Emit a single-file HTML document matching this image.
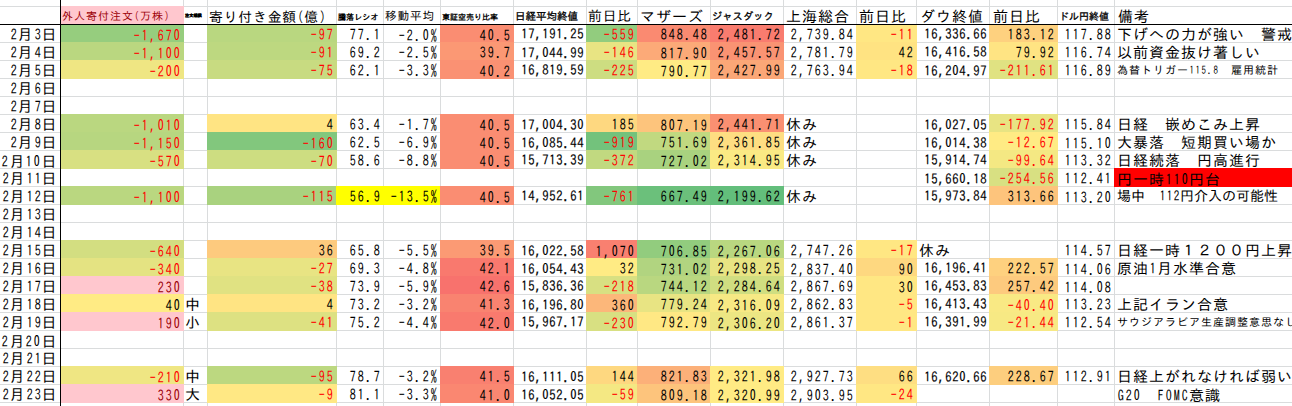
<!DOCTYPE html><html lang="ja"><head><meta charset="utf-8"><title>sheet</title><style>
html,body{margin:0;padding:0}body{width:1292px;height:406px;overflow:hidden;background:#fff;position:relative;font-family:"IPAGothic","Liberation Mono","Noto Sans CJK JP",monospace;color:#000}
.g{position:absolute;background:#dadcdd}.f{position:absolute}.b{position:absolute;background:#000}
.t{position:absolute;white-space:nowrap;height:18px;line-height:18px}
.t i{display:inline-block;font-style:normal;transform:scaleX(.8)}.t u{text-decoration:none;letter-spacing:var(--d)}
.t .z{font-family:"Noto Sans Mono CJK JP","IPAGothic",monospace;transform:scaleX(.8) translateY(-.7px)}
.w i{transform:scaleX(.9)}.w .z{transform:scaleX(.9) translateY(-.6px)}.w{-webkit-text-stroke:.15px #000}
.r{text-align:right}.n{color:#ff0000}.d{color:#9c0006}
</style></head><body>
<div class="g" style="left:0;top:6px;width:1292px;height:1px"></div>
<div class="g" style="left:0;top:42px;width:1292px;height:1px"></div>
<div class="g" style="left:0;top:60px;width:1292px;height:1px"></div>
<div class="g" style="left:0;top:78px;width:1292px;height:1px"></div>
<div class="g" style="left:0;top:96px;width:1292px;height:1px"></div>
<div class="g" style="left:0;top:114px;width:1292px;height:1px"></div>
<div class="g" style="left:0;top:132px;width:1292px;height:1px"></div>
<div class="g" style="left:0;top:150px;width:1292px;height:1px"></div>
<div class="g" style="left:0;top:168px;width:1292px;height:1px"></div>
<div class="g" style="left:0;top:186px;width:1292px;height:1px"></div>
<div class="g" style="left:0;top:204px;width:1292px;height:1px"></div>
<div class="g" style="left:0;top:222px;width:1292px;height:1px"></div>
<div class="g" style="left:0;top:240px;width:1292px;height:1px"></div>
<div class="g" style="left:0;top:258px;width:1292px;height:1px"></div>
<div class="g" style="left:0;top:276px;width:1292px;height:1px"></div>
<div class="g" style="left:0;top:294px;width:1292px;height:1px"></div>
<div class="g" style="left:0;top:312px;width:1292px;height:1px"></div>
<div class="g" style="left:0;top:330px;width:1292px;height:1px"></div>
<div class="g" style="left:0;top:348px;width:1292px;height:1px"></div>
<div class="g" style="left:0;top:366px;width:1292px;height:1px"></div>
<div class="g" style="left:0;top:384px;width:1292px;height:1px"></div>
<div class="g" style="left:0;top:402px;width:1292px;height:1px"></div>
<div class="g" style="left:183px;top:0;width:1px;height:406px"></div>
<div class="g" style="left:207px;top:0;width:1px;height:406px"></div>
<div class="g" style="left:336px;top:0;width:1px;height:406px"></div>
<div class="g" style="left:383px;top:0;width:1px;height:406px"></div>
<div class="g" style="left:440px;top:0;width:1px;height:406px"></div>
<div class="g" style="left:513px;top:0;width:1px;height:406px"></div>
<div class="g" style="left:586px;top:0;width:1px;height:406px"></div>
<div class="g" style="left:637px;top:0;width:1px;height:406px"></div>
<div class="g" style="left:710px;top:0;width:1px;height:406px"></div>
<div class="g" style="left:783px;top:0;width:1px;height:406px"></div>
<div class="g" style="left:856px;top:0;width:1px;height:406px"></div>
<div class="g" style="left:916px;top:0;width:1px;height:406px"></div>
<div class="g" style="left:989px;top:0;width:1px;height:406px"></div>
<div class="g" style="left:1057px;top:0;width:1px;height:406px"></div>
<div class="g" style="left:1114px;top:0;width:1px;height:406px"></div>
<div class="f" style="left:60px;top:6px;width:124px;height:18px;background:#ffc7ce"></div>
<div class="f" style="left:60px;top:24px;width:124px;height:19px;background:#96cd7e"></div>
<div class="f" style="left:207px;top:24px;width:130px;height:19px;background:#b9d780"></div>
<div class="f" style="left:440px;top:24px;width:74px;height:19px;background:#fa8d72"></div>
<div class="f" style="left:586px;top:24px;width:52px;height:19px;background:#92cc7e"></div>
<div class="f" style="left:637px;top:24px;width:74px;height:19px;background:#fa8a71"></div>
<div class="f" style="left:710px;top:24px;width:74px;height:19px;background:#f97c6f"></div>
<div class="f" style="left:856px;top:24px;width:61px;height:19px;background:#ffe783"></div>
<div class="f" style="left:989px;top:24px;width:69px;height:19px;background:#fed17f"></div>
<div class="f" style="left:60px;top:42px;width:124px;height:19px;background:#bad780"></div>
<div class="f" style="left:207px;top:42px;width:130px;height:19px;background:#bdd880"></div>
<div class="f" style="left:440px;top:42px;width:74px;height:19px;background:#fb9874"></div>
<div class="f" style="left:586px;top:42px;width:52px;height:19px;background:#e8e483"></div>
<div class="f" style="left:637px;top:42px;width:74px;height:19px;background:#fcaa78"></div>
<div class="f" style="left:710px;top:42px;width:74px;height:19px;background:#fa9373"></div>
<div class="f" style="left:856px;top:42px;width:61px;height:19px;background:#ffe382"></div>
<div class="f" style="left:989px;top:42px;width:69px;height:19px;background:#ffe483"></div>
<div class="f" style="left:60px;top:60px;width:124px;height:19px;background:#efe683"></div>
<div class="f" style="left:207px;top:60px;width:130px;height:19px;background:#c8db81"></div>
<div class="f" style="left:440px;top:60px;width:74px;height:19px;background:#fa9173"></div>
<div class="f" style="left:586px;top:60px;width:52px;height:19px;background:#cddd81"></div>
<div class="f" style="left:637px;top:60px;width:74px;height:19px;background:#ffeb84"></div>
<div class="f" style="left:710px;top:60px;width:74px;height:19px;background:#fba777"></div>
<div class="f" style="left:856px;top:60px;width:61px;height:19px;background:#ffe783"></div>
<div class="f" style="left:989px;top:60px;width:69px;height:19px;background:#e0e282"></div>
<div class="f" style="left:60px;top:114px;width:124px;height:19px;background:#bad780"></div>
<div class="f" style="left:207px;top:114px;width:130px;height:19px;background:#ffe483"></div>
<div class="f" style="left:440px;top:114px;width:74px;height:19px;background:#fa8d72"></div>
<div class="f" style="left:586px;top:114px;width:52px;height:19px;background:#fed880"></div>
<div class="f" style="left:637px;top:114px;width:74px;height:19px;background:#fdc47c"></div>
<div class="f" style="left:710px;top:114px;width:74px;height:19px;background:#fa9072"></div>
<div class="f" style="left:989px;top:114px;width:69px;height:19px;background:#e8e483"></div>
<div class="f" style="left:60px;top:132px;width:124px;height:19px;background:#b7d680"></div>
<div class="f" style="left:207px;top:132px;width:130px;height:19px;background:#82c77d"></div>
<div class="f" style="left:440px;top:132px;width:74px;height:19px;background:#fa8d72"></div>
<div class="f" style="left:586px;top:132px;width:52px;height:19px;background:#73c27c"></div>
<div class="f" style="left:637px;top:132px;width:74px;height:19px;background:#c1d980"></div>
<div class="f" style="left:710px;top:132px;width:74px;height:19px;background:#fede82"></div>
<div class="f" style="left:989px;top:132px;width:69px;height:19px;background:#ffeb84"></div>
<div class="f" style="left:60px;top:150px;width:124px;height:19px;background:#d8e082"></div>
<div class="f" style="left:207px;top:150px;width:130px;height:19px;background:#cddd81"></div>
<div class="f" style="left:440px;top:150px;width:74px;height:19px;background:#fa8d72"></div>
<div class="f" style="left:586px;top:150px;width:52px;height:19px;background:#c1d980"></div>
<div class="f" style="left:637px;top:150px;width:74px;height:19px;background:#a9d27f"></div>
<div class="f" style="left:710px;top:150px;width:74px;height:19px;background:#faea84"></div>
<div class="f" style="left:989px;top:150px;width:69px;height:19px;background:#f4e883"></div>
<div class="f" style="left:989px;top:168px;width:69px;height:19px;background:#d8e082"></div>
<div class="f" style="left:1114px;top:168px;width:287px;height:19px;background:#ff0000"></div>
<div class="f" style="left:60px;top:186px;width:124px;height:19px;background:#bad780"></div>
<div class="f" style="left:207px;top:186px;width:130px;height:19px;background:#a9d27f"></div>
<div class="f" style="left:336px;top:186px;width:48px;height:19px;background:#ffff00"></div>
<div class="f" style="left:383px;top:186px;width:58px;height:19px;background:#ffff00"></div>
<div class="f" style="left:440px;top:186px;width:74px;height:19px;background:#fa8d72"></div>
<div class="f" style="left:586px;top:186px;width:52px;height:19px;background:#82c77d"></div>
<div class="f" style="left:637px;top:186px;width:74px;height:19px;background:#6bc07b"></div>
<div class="f" style="left:710px;top:186px;width:74px;height:19px;background:#63be7b"></div>
<div class="f" style="left:989px;top:186px;width:69px;height:19px;background:#fdc47c"></div>
<div class="f" style="left:60px;top:240px;width:124px;height:19px;background:#d3de81"></div>
<div class="f" style="left:207px;top:240px;width:130px;height:19px;background:#fdca7e"></div>
<div class="f" style="left:440px;top:240px;width:74px;height:19px;background:#fb9a74"></div>
<div class="f" style="left:586px;top:240px;width:52px;height:19px;background:#f98070"></div>
<div class="f" style="left:637px;top:240px;width:74px;height:19px;background:#92cc7e"></div>
<div class="f" style="left:710px;top:240px;width:74px;height:19px;background:#b9d780"></div>
<div class="f" style="left:856px;top:240px;width:61px;height:19px;background:#ffe783"></div>
<div class="f" style="left:60px;top:258px;width:124px;height:19px;background:#e4e382"></div>
<div class="f" style="left:207px;top:258px;width:130px;height:19px;background:#e8e483"></div>
<div class="f" style="left:440px;top:258px;width:74px;height:19px;background:#f9796e"></div>
<div class="f" style="left:586px;top:258px;width:52px;height:19px;background:#ffeb84"></div>
<div class="f" style="left:637px;top:258px;width:74px;height:19px;background:#b1d480"></div>
<div class="f" style="left:710px;top:258px;width:74px;height:19px;background:#e8e483"></div>
<div class="f" style="left:856px;top:258px;width:61px;height:19px;background:#fed880"></div>
<div class="f" style="left:989px;top:258px;width:69px;height:19px;background:#fed17f"></div>
<div class="f" style="left:60px;top:276px;width:124px;height:19px;background:#ffc7ce"></div>
<div class="f" style="left:207px;top:276px;width:130px;height:19px;background:#e0e282"></div>
<div class="f" style="left:440px;top:276px;width:74px;height:19px;background:#f8726d"></div>
<div class="f" style="left:586px;top:276px;width:52px;height:19px;background:#d8e082"></div>
<div class="f" style="left:637px;top:276px;width:74px;height:19px;background:#b9d780"></div>
<div class="f" style="left:710px;top:276px;width:74px;height:19px;background:#d0de81"></div>
<div class="f" style="left:856px;top:276px;width:61px;height:19px;background:#ffe783"></div>
<div class="f" style="left:989px;top:276px;width:69px;height:19px;background:#fdca7e"></div>
<div class="f" style="left:60px;top:294px;width:124px;height:19px;background:#ffeb84"></div>
<div class="f" style="left:207px;top:294px;width:130px;height:19px;background:#ffe483"></div>
<div class="f" style="left:440px;top:294px;width:74px;height:19px;background:#f98370"></div>
<div class="f" style="left:586px;top:294px;width:52px;height:19px;background:#fcb77a"></div>
<div class="f" style="left:637px;top:294px;width:74px;height:19px;background:#e8e483"></div>
<div class="f" style="left:710px;top:294px;width:74px;height:19px;background:#f7e984"></div>
<div class="f" style="left:856px;top:294px;width:61px;height:19px;background:#ffe783"></div>
<div class="f" style="left:989px;top:294px;width:69px;height:19px;background:#f9e984"></div>
<div class="f" style="left:60px;top:312px;width:124px;height:19px;background:#ffc7ce"></div>
<div class="f" style="left:207px;top:312px;width:130px;height:19px;background:#dde182"></div>
<div class="f" style="left:440px;top:312px;width:74px;height:19px;background:#f97a6e"></div>
<div class="f" style="left:586px;top:312px;width:52px;height:19px;background:#d8e082"></div>
<div class="f" style="left:637px;top:312px;width:74px;height:19px;background:#ffe884"></div>
<div class="f" style="left:710px;top:312px;width:74px;height:19px;background:#ece683"></div>
<div class="f" style="left:856px;top:312px;width:61px;height:19px;background:#ffe783"></div>
<div class="f" style="left:989px;top:312px;width:69px;height:19px;background:#f7e984"></div>
<div class="f" style="left:60px;top:366px;width:124px;height:19px;background:#efe683"></div>
<div class="f" style="left:207px;top:366px;width:130px;height:19px;background:#bcd880"></div>
<div class="f" style="left:440px;top:366px;width:74px;height:19px;background:#f98070"></div>
<div class="f" style="left:586px;top:366px;width:52px;height:19px;background:#fed880"></div>
<div class="f" style="left:637px;top:366px;width:74px;height:19px;background:#fcb079"></div>
<div class="f" style="left:710px;top:366px;width:74px;height:19px;background:#ffeb84"></div>
<div class="f" style="left:856px;top:366px;width:61px;height:19px;background:#fede82"></div>
<div class="f" style="left:989px;top:366px;width:69px;height:19px;background:#fdce7e"></div>
<div class="f" style="left:60px;top:384px;width:124px;height:19px;background:#ffc7ce"></div>
<div class="f" style="left:207px;top:384px;width:130px;height:19px;background:#ffe884"></div>
<div class="f" style="left:440px;top:384px;width:74px;height:19px;background:#fa8771"></div>
<div class="f" style="left:586px;top:384px;width:52px;height:19px;background:#f4e883"></div>
<div class="f" style="left:637px;top:384px;width:74px;height:19px;background:#fdc47c"></div>
<div class="f" style="left:710px;top:384px;width:74px;height:19px;background:#ffeb84"></div>
<div class="f" style="left:856px;top:384px;width:61px;height:19px;background:#ffe783"></div>
<div class="b" style="left:0;top:24px;width:1292px;height:1px"></div>
<div class="b" style="left:60px;top:0;width:1px;height:406px"></div>
<div class="t" style="left:62px;top:6.5px;font-size:11.00px;letter-spacing:0.500px;--d:1.000px;color:#9c0006"><u>外人寄付注文</u><i>(</i><u>万株</u><i>)</i></div>
<div class="t" style="left:185px;top:7px;font-size:4.20px;font-weight:bold;-webkit-text-stroke:.3px #000">注文規模</div>
<div class="t" style="left:209px;top:8px;font-size:13.75px;letter-spacing:0.458px;--d:0.917px;"><u>寄り付き金額</u><i>(</i><u>億</u><i>)</i></div>
<div class="t" style="left:338px;top:8px;font-size:8.10px;font-weight:bold">騰落レシオ</div>
<div class="t" style="left:385px;top:7px;font-size:11.62px;letter-spacing:0.438px;--d:0.875px;"><u>移動平均</u></div>
<div class="t" style="left:442px;top:8px;font-size:8.00px;font-weight:bold">東証空売り比率</div>
<div class="t" style="left:515px;top:7px;font-size:10.50px;-webkit-text-stroke:.3px #000">日経平均終値</div>
<div class="t" style="left:588px;top:7px;font-size:13.75px;letter-spacing:0.458px;--d:0.917px;"><u>前日比</u></div>
<div class="t" style="left:640px;top:8px;font-size:15.00px;letter-spacing:0.500px;--d:1.000px;"><u>マザーズ</u></div>
<div class="t" style="left:712px;top:7px;font-size:10.30px;-webkit-text-stroke:.3px #000">ジャスダック</div>
<div class="t" style="left:786px;top:8px;font-size:15.00px;letter-spacing:0.500px;--d:1.000px;"><u>上海総合</u></div>
<div class="t" style="left:859px;top:8px;font-size:15.00px;letter-spacing:0.500px;--d:1.000px;"><u>前日比</u></div>
<div class="t" style="left:920px;top:8px;font-size:15.00px;letter-spacing:0.500px;--d:1.000px;"><u>ダウ終値</u></div>
<div class="t" style="left:993px;top:8px;font-size:15.00px;letter-spacing:0.500px;--d:1.000px;"><u>前日比</u></div>
<div class="t" style="left:1059px;top:7px;font-size:10.00px;-webkit-text-stroke:.3px #000">ドル円終値</div>
<div class="t" style="left:1118px;top:8px;font-size:15.00px;letter-spacing:0.500px;--d:1.000px;"><u>備考</u></div>
<div class="t r" style="left:0px;width:57.50px;top:26.0px;font-size:15.00px;letter-spacing:0.500px;--d:1.000px;"><i>2</i><u>月</u><i>3</i><u>日</u></div>
<div class="t r n" style="left:61px;width:120.25px;top:26.0px;font-size:15.00px;letter-spacing:0.500px;--d:1.000px;"><i>-</i><i>1</i><i>,</i><i>6</i><i>7</i><i class="z">0</i></div>
<div class="t r n" style="left:208px;width:126.25px;top:26.0px;font-size:15.00px;letter-spacing:0.500px;--d:1.000px;"><i>-</i><i>9</i><i>7</i></div>
<div class="t r" style="left:337px;width:44.25px;top:26.0px;font-size:15.00px;letter-spacing:0.500px;--d:1.000px;"><i>7</i><i>7</i><i>.</i><i>1</i></div>
<div class="t r" style="left:384px;width:54.25px;top:26.0px;font-size:15.00px;letter-spacing:0.500px;--d:1.000px;"><i>-</i><i>2</i><i>.</i><i class="z">0</i><i>%</i></div>
<div class="t r" style="left:441px;width:70.25px;top:26.0px;font-size:15.00px;letter-spacing:0.500px;--d:1.000px;"><i>4</i><i class="z">0</i><i>.</i><i>5</i></div>
<div class="t r w" style="left:514px;width:70.00px;top:25px;font-size:14.00px;"><i>1</i><i>7</i><i>,</i><i>1</i><i>9</i><i>1</i><i>.</i><i>2</i><i>5</i></div>
<div class="t r n" style="left:587px;width:48.25px;top:26.0px;font-size:15.00px;letter-spacing:0.500px;--d:1.000px;"><i>-</i><i>5</i><i>5</i><i>9</i></div>
<div class="t r" style="left:638px;width:70.25px;top:26.0px;font-size:15.00px;letter-spacing:0.500px;--d:1.000px;"><i>8</i><i>4</i><i>8</i><i>.</i><i>4</i><i>8</i></div>
<div class="t r" style="left:711px;width:70.25px;top:26.0px;font-size:15.00px;letter-spacing:0.500px;--d:1.000px;"><i>2</i><i>,</i><i>4</i><i>8</i><i>1</i><i>.</i><i>7</i><i>2</i></div>
<div class="t r" style="left:784px;width:70.25px;top:26.0px;font-size:15.00px;letter-spacing:0.500px;--d:1.000px;"><i>2</i><i>,</i><i>7</i><i>3</i><i>9</i><i>.</i><i>8</i><i>4</i></div>
<div class="t r n" style="left:857px;width:57.25px;top:26.0px;font-size:15.00px;letter-spacing:0.500px;--d:1.000px;"><i>-</i><i>1</i><i>1</i></div>
<div class="t r w" style="left:917px;width:70.00px;top:25px;font-size:14.00px;"><i>1</i><i>6</i><i>,</i><i>3</i><i>3</i><i>6</i><i>.</i><i>6</i><i>6</i></div>
<div class="t r" style="left:990px;width:65.25px;top:26.0px;font-size:15.00px;letter-spacing:0.500px;--d:1.000px;"><i>1</i><i>8</i><i>3</i><i>.</i><i>1</i><i>2</i></div>
<div class="t r" style="left:1058px;width:54.25px;top:26.0px;font-size:15.00px;letter-spacing:0.500px;--d:1.000px;"><i>1</i><i>1</i><i>7</i><i>.</i><i>8</i><i>8</i></div>
<div class="t" style="left:1117px;top:26.0px;font-size:15.00px;letter-spacing:0.500px;--d:1.000px;"><u>下げへの力が強い　警戒</u></div>
<div class="t r" style="left:0px;width:57.50px;top:44.0px;font-size:15.00px;letter-spacing:0.500px;--d:1.000px;"><i>2</i><u>月</u><i>4</i><u>日</u></div>
<div class="t r n" style="left:61px;width:120.25px;top:44.0px;font-size:15.00px;letter-spacing:0.500px;--d:1.000px;"><i>-</i><i>1</i><i>,</i><i>1</i><i class="z">0</i><i class="z">0</i></div>
<div class="t r n" style="left:208px;width:126.25px;top:44.0px;font-size:15.00px;letter-spacing:0.500px;--d:1.000px;"><i>-</i><i>9</i><i>1</i></div>
<div class="t r" style="left:337px;width:44.25px;top:44.0px;font-size:15.00px;letter-spacing:0.500px;--d:1.000px;"><i>6</i><i>9</i><i>.</i><i>2</i></div>
<div class="t r" style="left:384px;width:54.25px;top:44.0px;font-size:15.00px;letter-spacing:0.500px;--d:1.000px;"><i>-</i><i>2</i><i>.</i><i>5</i><i>%</i></div>
<div class="t r" style="left:441px;width:70.25px;top:44.0px;font-size:15.00px;letter-spacing:0.500px;--d:1.000px;"><i>3</i><i>9</i><i>.</i><i>7</i></div>
<div class="t r w" style="left:514px;width:70.00px;top:43px;font-size:14.00px;"><i>1</i><i>7</i><i>,</i><i class="z">0</i><i>4</i><i>4</i><i>.</i><i>9</i><i>9</i></div>
<div class="t r n" style="left:587px;width:48.25px;top:44.0px;font-size:15.00px;letter-spacing:0.500px;--d:1.000px;"><i>-</i><i>1</i><i>4</i><i>6</i></div>
<div class="t r" style="left:638px;width:70.25px;top:44.0px;font-size:15.00px;letter-spacing:0.500px;--d:1.000px;"><i>8</i><i>1</i><i>7</i><i>.</i><i>9</i><i class="z">0</i></div>
<div class="t r" style="left:711px;width:70.25px;top:44.0px;font-size:15.00px;letter-spacing:0.500px;--d:1.000px;"><i>2</i><i>,</i><i>4</i><i>5</i><i>7</i><i>.</i><i>5</i><i>7</i></div>
<div class="t r" style="left:784px;width:70.25px;top:44.0px;font-size:15.00px;letter-spacing:0.500px;--d:1.000px;"><i>2</i><i>,</i><i>7</i><i>8</i><i>1</i><i>.</i><i>7</i><i>9</i></div>
<div class="t r" style="left:857px;width:57.25px;top:44.0px;font-size:15.00px;letter-spacing:0.500px;--d:1.000px;"><i>4</i><i>2</i></div>
<div class="t r w" style="left:917px;width:70.00px;top:43px;font-size:14.00px;"><i>1</i><i>6</i><i>,</i><i>4</i><i>1</i><i>6</i><i>.</i><i>5</i><i>8</i></div>
<div class="t r" style="left:990px;width:65.25px;top:44.0px;font-size:15.00px;letter-spacing:0.500px;--d:1.000px;"><i>7</i><i>9</i><i>.</i><i>9</i><i>2</i></div>
<div class="t r" style="left:1058px;width:54.25px;top:44.0px;font-size:15.00px;letter-spacing:0.500px;--d:1.000px;"><i>1</i><i>1</i><i>6</i><i>.</i><i>7</i><i>4</i></div>
<div class="t" style="left:1117px;top:44.0px;font-size:15.00px;letter-spacing:0.500px;--d:1.000px;"><u>以前資金抜け著しい</u></div>
<div class="t r" style="left:0px;width:57.50px;top:62.0px;font-size:15.00px;letter-spacing:0.500px;--d:1.000px;"><i>2</i><u>月</u><i>5</i><u>日</u></div>
<div class="t r n" style="left:61px;width:120.25px;top:62.0px;font-size:15.00px;letter-spacing:0.500px;--d:1.000px;"><i>-</i><i>2</i><i class="z">0</i><i class="z">0</i></div>
<div class="t r n" style="left:208px;width:126.25px;top:62.0px;font-size:15.00px;letter-spacing:0.500px;--d:1.000px;"><i>-</i><i>7</i><i>5</i></div>
<div class="t r" style="left:337px;width:44.25px;top:62.0px;font-size:15.00px;letter-spacing:0.500px;--d:1.000px;"><i>6</i><i>2</i><i>.</i><i>1</i></div>
<div class="t r" style="left:384px;width:54.25px;top:62.0px;font-size:15.00px;letter-spacing:0.500px;--d:1.000px;"><i>-</i><i>3</i><i>.</i><i>3</i><i>%</i></div>
<div class="t r" style="left:441px;width:70.25px;top:62.0px;font-size:15.00px;letter-spacing:0.500px;--d:1.000px;"><i>4</i><i class="z">0</i><i>.</i><i>2</i></div>
<div class="t r w" style="left:514px;width:70.00px;top:61px;font-size:14.00px;"><i>1</i><i>6</i><i>,</i><i>8</i><i>1</i><i>9</i><i>.</i><i>5</i><i>9</i></div>
<div class="t r n" style="left:587px;width:48.25px;top:62.0px;font-size:15.00px;letter-spacing:0.500px;--d:1.000px;"><i>-</i><i>2</i><i>2</i><i>5</i></div>
<div class="t r" style="left:638px;width:70.25px;top:62.0px;font-size:15.00px;letter-spacing:0.500px;--d:1.000px;"><i>7</i><i>9</i><i class="z">0</i><i>.</i><i>7</i><i>7</i></div>
<div class="t r" style="left:711px;width:70.25px;top:62.0px;font-size:15.00px;letter-spacing:0.500px;--d:1.000px;"><i>2</i><i>,</i><i>4</i><i>2</i><i>7</i><i>.</i><i>9</i><i>9</i></div>
<div class="t r" style="left:784px;width:70.25px;top:62.0px;font-size:15.00px;letter-spacing:0.500px;--d:1.000px;"><i>2</i><i>,</i><i>7</i><i>6</i><i>3</i><i>.</i><i>9</i><i>4</i></div>
<div class="t r n" style="left:857px;width:57.25px;top:62.0px;font-size:15.00px;letter-spacing:0.500px;--d:1.000px;"><i>-</i><i>1</i><i>8</i></div>
<div class="t r w" style="left:917px;width:70.00px;top:61px;font-size:14.00px;"><i>1</i><i>6</i><i>,</i><i>2</i><i class="z">0</i><i>4</i><i>.</i><i>9</i><i>7</i></div>
<div class="t r n" style="left:990px;width:65.25px;top:62.0px;font-size:15.00px;letter-spacing:0.500px;--d:1.000px;"><i>-</i><i>2</i><i>1</i><i>1</i><i>.</i><i>6</i><i>1</i></div>
<div class="t r" style="left:1058px;width:54.25px;top:62.0px;font-size:15.00px;letter-spacing:0.500px;--d:1.000px;"><i>1</i><i>1</i><i>6</i><i>.</i><i>8</i><i>9</i></div>
<div class="t" style="left:1117px;top:61.0px;font-size:11.00px;letter-spacing:0.500px;--d:1.000px;"><u>為替トリガー</u><i>1</i><i>1</i><i>5</i><i>.</i><i>8</i><u>　雇用統計</u></div>
<div class="t r" style="left:0px;width:57.50px;top:80.0px;font-size:15.00px;letter-spacing:0.500px;--d:1.000px;"><i>2</i><u>月</u><i>6</i><u>日</u></div>
<div class="t r" style="left:0px;width:57.50px;top:98.0px;font-size:15.00px;letter-spacing:0.500px;--d:1.000px;"><i>2</i><u>月</u><i>7</i><u>日</u></div>
<div class="t r" style="left:0px;width:57.50px;top:116.0px;font-size:15.00px;letter-spacing:0.500px;--d:1.000px;"><i>2</i><u>月</u><i>8</i><u>日</u></div>
<div class="t r n" style="left:61px;width:120.25px;top:116.0px;font-size:15.00px;letter-spacing:0.500px;--d:1.000px;"><i>-</i><i>1</i><i>,</i><i class="z">0</i><i>1</i><i class="z">0</i></div>
<div class="t r" style="left:208px;width:126.25px;top:116.0px;font-size:15.00px;letter-spacing:0.500px;--d:1.000px;"><i>4</i></div>
<div class="t r" style="left:337px;width:44.25px;top:116.0px;font-size:15.00px;letter-spacing:0.500px;--d:1.000px;"><i>6</i><i>3</i><i>.</i><i>4</i></div>
<div class="t r" style="left:384px;width:54.25px;top:116.0px;font-size:15.00px;letter-spacing:0.500px;--d:1.000px;"><i>-</i><i>1</i><i>.</i><i>7</i><i>%</i></div>
<div class="t r" style="left:441px;width:70.25px;top:116.0px;font-size:15.00px;letter-spacing:0.500px;--d:1.000px;"><i>4</i><i class="z">0</i><i>.</i><i>5</i></div>
<div class="t r w" style="left:514px;width:70.00px;top:115px;font-size:14.00px;"><i>1</i><i>7</i><i>,</i><i class="z">0</i><i class="z">0</i><i>4</i><i>.</i><i>3</i><i class="z">0</i></div>
<div class="t r" style="left:587px;width:48.25px;top:116.0px;font-size:15.00px;letter-spacing:0.500px;--d:1.000px;"><i>1</i><i>8</i><i>5</i></div>
<div class="t r" style="left:638px;width:70.25px;top:116.0px;font-size:15.00px;letter-spacing:0.500px;--d:1.000px;"><i>8</i><i class="z">0</i><i>7</i><i>.</i><i>1</i><i>9</i></div>
<div class="t r" style="left:711px;width:70.25px;top:116.0px;font-size:15.00px;letter-spacing:0.500px;--d:1.000px;"><i>2</i><i>,</i><i>4</i><i>4</i><i>1</i><i>.</i><i>7</i><i>1</i></div>
<div class="t" style="left:786px;top:116.0px;font-size:15.00px;letter-spacing:0.500px;--d:1.000px;"><u>休み</u></div>
<div class="t r w" style="left:917px;width:70.00px;top:115px;font-size:14.00px;"><i>1</i><i>6</i><i>,</i><i class="z">0</i><i>2</i><i>7</i><i>.</i><i class="z">0</i><i>5</i></div>
<div class="t r n" style="left:990px;width:65.25px;top:116.0px;font-size:15.00px;letter-spacing:0.500px;--d:1.000px;"><i>-</i><i>1</i><i>7</i><i>7</i><i>.</i><i>9</i><i>2</i></div>
<div class="t r" style="left:1058px;width:54.25px;top:116.0px;font-size:15.00px;letter-spacing:0.500px;--d:1.000px;"><i>1</i><i>1</i><i>5</i><i>.</i><i>8</i><i>4</i></div>
<div class="t" style="left:1117px;top:116.0px;font-size:15.00px;letter-spacing:0.500px;--d:1.000px;"><u>日経　嵌めこみ上昇</u></div>
<div class="t r" style="left:0px;width:57.50px;top:134.0px;font-size:15.00px;letter-spacing:0.500px;--d:1.000px;"><i>2</i><u>月</u><i>9</i><u>日</u></div>
<div class="t r n" style="left:61px;width:120.25px;top:134.0px;font-size:15.00px;letter-spacing:0.500px;--d:1.000px;"><i>-</i><i>1</i><i>,</i><i>1</i><i>5</i><i class="z">0</i></div>
<div class="t r n" style="left:208px;width:126.25px;top:134.0px;font-size:15.00px;letter-spacing:0.500px;--d:1.000px;"><i>-</i><i>1</i><i>6</i><i class="z">0</i></div>
<div class="t r" style="left:337px;width:44.25px;top:134.0px;font-size:15.00px;letter-spacing:0.500px;--d:1.000px;"><i>6</i><i>2</i><i>.</i><i>5</i></div>
<div class="t r" style="left:384px;width:54.25px;top:134.0px;font-size:15.00px;letter-spacing:0.500px;--d:1.000px;"><i>-</i><i>6</i><i>.</i><i>9</i><i>%</i></div>
<div class="t r" style="left:441px;width:70.25px;top:134.0px;font-size:15.00px;letter-spacing:0.500px;--d:1.000px;"><i>4</i><i class="z">0</i><i>.</i><i>5</i></div>
<div class="t r w" style="left:514px;width:70.00px;top:133px;font-size:14.00px;"><i>1</i><i>6</i><i>,</i><i class="z">0</i><i>8</i><i>5</i><i>.</i><i>4</i><i>4</i></div>
<div class="t r n" style="left:587px;width:48.25px;top:134.0px;font-size:15.00px;letter-spacing:0.500px;--d:1.000px;"><i>-</i><i>9</i><i>1</i><i>9</i></div>
<div class="t r" style="left:638px;width:70.25px;top:134.0px;font-size:15.00px;letter-spacing:0.500px;--d:1.000px;"><i>7</i><i>5</i><i>1</i><i>.</i><i>6</i><i>9</i></div>
<div class="t r" style="left:711px;width:70.25px;top:134.0px;font-size:15.00px;letter-spacing:0.500px;--d:1.000px;"><i>2</i><i>,</i><i>3</i><i>6</i><i>1</i><i>.</i><i>8</i><i>5</i></div>
<div class="t" style="left:786px;top:134.0px;font-size:15.00px;letter-spacing:0.500px;--d:1.000px;"><u>休み</u></div>
<div class="t r w" style="left:917px;width:70.00px;top:133px;font-size:14.00px;"><i>1</i><i>6</i><i>,</i><i class="z">0</i><i>1</i><i>4</i><i>.</i><i>3</i><i>8</i></div>
<div class="t r n" style="left:990px;width:65.25px;top:134.0px;font-size:15.00px;letter-spacing:0.500px;--d:1.000px;"><i>-</i><i>1</i><i>2</i><i>.</i><i>6</i><i>7</i></div>
<div class="t r" style="left:1058px;width:54.25px;top:134.0px;font-size:15.00px;letter-spacing:0.500px;--d:1.000px;"><i>1</i><i>1</i><i>5</i><i>.</i><i>1</i><i class="z">0</i></div>
<div class="t" style="left:1117px;top:134.0px;font-size:15.00px;letter-spacing:0.500px;--d:1.000px;"><u>大暴落　短期買い場か</u></div>
<div class="t r" style="left:0px;width:57.50px;top:152.0px;font-size:15.00px;letter-spacing:0.500px;--d:1.000px;"><i>2</i><u>月</u><i>1</i><i class="z">0</i><u>日</u></div>
<div class="t r n" style="left:61px;width:120.25px;top:152.0px;font-size:15.00px;letter-spacing:0.500px;--d:1.000px;"><i>-</i><i>5</i><i>7</i><i class="z">0</i></div>
<div class="t r n" style="left:208px;width:126.25px;top:152.0px;font-size:15.00px;letter-spacing:0.500px;--d:1.000px;"><i>-</i><i>7</i><i class="z">0</i></div>
<div class="t r" style="left:337px;width:44.25px;top:152.0px;font-size:15.00px;letter-spacing:0.500px;--d:1.000px;"><i>5</i><i>8</i><i>.</i><i>6</i></div>
<div class="t r" style="left:384px;width:54.25px;top:152.0px;font-size:15.00px;letter-spacing:0.500px;--d:1.000px;"><i>-</i><i>8</i><i>.</i><i>8</i><i>%</i></div>
<div class="t r" style="left:441px;width:70.25px;top:152.0px;font-size:15.00px;letter-spacing:0.500px;--d:1.000px;"><i>4</i><i class="z">0</i><i>.</i><i>5</i></div>
<div class="t r w" style="left:514px;width:70.00px;top:151px;font-size:14.00px;"><i>1</i><i>5</i><i>,</i><i>7</i><i>1</i><i>3</i><i>.</i><i>3</i><i>9</i></div>
<div class="t r n" style="left:587px;width:48.25px;top:152.0px;font-size:15.00px;letter-spacing:0.500px;--d:1.000px;"><i>-</i><i>3</i><i>7</i><i>2</i></div>
<div class="t r" style="left:638px;width:70.25px;top:152.0px;font-size:15.00px;letter-spacing:0.500px;--d:1.000px;"><i>7</i><i>2</i><i>7</i><i>.</i><i class="z">0</i><i>2</i></div>
<div class="t r" style="left:711px;width:70.25px;top:152.0px;font-size:15.00px;letter-spacing:0.500px;--d:1.000px;"><i>2</i><i>,</i><i>3</i><i>1</i><i>4</i><i>.</i><i>9</i><i>5</i></div>
<div class="t" style="left:786px;top:152.0px;font-size:15.00px;letter-spacing:0.500px;--d:1.000px;"><u>休み</u></div>
<div class="t r w" style="left:917px;width:70.00px;top:151px;font-size:14.00px;"><i>1</i><i>5</i><i>,</i><i>9</i><i>1</i><i>4</i><i>.</i><i>7</i><i>4</i></div>
<div class="t r n" style="left:990px;width:65.25px;top:152.0px;font-size:15.00px;letter-spacing:0.500px;--d:1.000px;"><i>-</i><i>9</i><i>9</i><i>.</i><i>6</i><i>4</i></div>
<div class="t r" style="left:1058px;width:54.25px;top:152.0px;font-size:15.00px;letter-spacing:0.500px;--d:1.000px;"><i>1</i><i>1</i><i>3</i><i>.</i><i>3</i><i>2</i></div>
<div class="t" style="left:1117px;top:152.0px;font-size:15.00px;letter-spacing:0.500px;--d:1.000px;"><u>日経続落　円高進行</u></div>
<div class="t r" style="left:0px;width:57.50px;top:170.0px;font-size:15.00px;letter-spacing:0.500px;--d:1.000px;"><i>2</i><u>月</u><i>1</i><i>1</i><u>日</u></div>
<div class="t r w" style="left:917px;width:70.00px;top:169px;font-size:14.00px;"><i>1</i><i>5</i><i>,</i><i>6</i><i>6</i><i class="z">0</i><i>.</i><i>1</i><i>8</i></div>
<div class="t r n" style="left:990px;width:65.25px;top:170.0px;font-size:15.00px;letter-spacing:0.500px;--d:1.000px;"><i>-</i><i>2</i><i>5</i><i>4</i><i>.</i><i>5</i><i>6</i></div>
<div class="t r" style="left:1058px;width:54.25px;top:170.0px;font-size:15.00px;letter-spacing:0.500px;--d:1.000px;"><i>1</i><i>1</i><i>2</i><i>.</i><i>4</i><i>1</i></div>
<div class="t" style="left:1117px;top:170.0px;font-size:15.00px;letter-spacing:0.500px;--d:1.000px;"><u>円一時</u><i>1</i><i>1</i><i class="z">0</i><u>円台</u></div>
<div class="t r" style="left:0px;width:57.50px;top:188.0px;font-size:15.00px;letter-spacing:0.500px;--d:1.000px;"><i>2</i><u>月</u><i>1</i><i>2</i><u>日</u></div>
<div class="t r n" style="left:61px;width:120.25px;top:188.0px;font-size:15.00px;letter-spacing:0.500px;--d:1.000px;"><i>-</i><i>1</i><i>,</i><i>1</i><i class="z">0</i><i class="z">0</i></div>
<div class="t r n" style="left:208px;width:126.25px;top:188.0px;font-size:15.00px;letter-spacing:0.500px;--d:1.000px;"><i>-</i><i>1</i><i>1</i><i>5</i></div>
<div class="t r" style="left:337px;width:44.25px;top:188.0px;font-size:15.00px;letter-spacing:0.500px;--d:1.000px;"><i>5</i><i>6</i><i>.</i><i>9</i></div>
<div class="t r" style="left:384px;width:54.25px;top:188.0px;font-size:15.00px;letter-spacing:0.500px;--d:1.000px;"><i>-</i><i>1</i><i>3</i><i>.</i><i>5</i><i>%</i></div>
<div class="t r" style="left:441px;width:70.25px;top:188.0px;font-size:15.00px;letter-spacing:0.500px;--d:1.000px;"><i>4</i><i class="z">0</i><i>.</i><i>5</i></div>
<div class="t r w" style="left:514px;width:70.00px;top:187px;font-size:14.00px;"><i>1</i><i>4</i><i>,</i><i>9</i><i>5</i><i>2</i><i>.</i><i>6</i><i>1</i></div>
<div class="t r n" style="left:587px;width:48.25px;top:188.0px;font-size:15.00px;letter-spacing:0.500px;--d:1.000px;"><i>-</i><i>7</i><i>6</i><i>1</i></div>
<div class="t r" style="left:638px;width:70.25px;top:188.0px;font-size:15.00px;letter-spacing:0.500px;--d:1.000px;"><i>6</i><i>6</i><i>7</i><i>.</i><i>4</i><i>9</i></div>
<div class="t r" style="left:711px;width:70.25px;top:188.0px;font-size:15.00px;letter-spacing:0.500px;--d:1.000px;"><i>2</i><i>,</i><i>1</i><i>9</i><i>9</i><i>.</i><i>6</i><i>2</i></div>
<div class="t" style="left:786px;top:188.0px;font-size:15.00px;letter-spacing:0.500px;--d:1.000px;"><u>休み</u></div>
<div class="t r w" style="left:917px;width:70.00px;top:187px;font-size:14.00px;"><i>1</i><i>5</i><i>,</i><i>9</i><i>7</i><i>3</i><i>.</i><i>8</i><i>4</i></div>
<div class="t r" style="left:990px;width:65.25px;top:188.0px;font-size:15.00px;letter-spacing:0.500px;--d:1.000px;"><i>3</i><i>1</i><i>3</i><i>.</i><i>6</i><i>6</i></div>
<div class="t r" style="left:1058px;width:54.25px;top:188.0px;font-size:15.00px;letter-spacing:0.500px;--d:1.000px;"><i>1</i><i>1</i><i>3</i><i>.</i><i>2</i><i class="z">0</i></div>
<div class="t" style="left:1117px;top:187.0px;font-size:14.00px;">場中　<i>1</i><i>1</i><i>2</i>円介入の可能性</div>
<div class="t r" style="left:0px;width:57.50px;top:206.0px;font-size:15.00px;letter-spacing:0.500px;--d:1.000px;"><i>2</i><u>月</u><i>1</i><i>3</i><u>日</u></div>
<div class="t r" style="left:0px;width:57.50px;top:224.0px;font-size:15.00px;letter-spacing:0.500px;--d:1.000px;"><i>2</i><u>月</u><i>1</i><i>4</i><u>日</u></div>
<div class="t r" style="left:0px;width:57.50px;top:242.0px;font-size:15.00px;letter-spacing:0.500px;--d:1.000px;"><i>2</i><u>月</u><i>1</i><i>5</i><u>日</u></div>
<div class="t r n" style="left:61px;width:120.25px;top:242.0px;font-size:15.00px;letter-spacing:0.500px;--d:1.000px;"><i>-</i><i>6</i><i>4</i><i class="z">0</i></div>
<div class="t r" style="left:208px;width:126.25px;top:242.0px;font-size:15.00px;letter-spacing:0.500px;--d:1.000px;"><i>3</i><i>6</i></div>
<div class="t r" style="left:337px;width:44.25px;top:242.0px;font-size:15.00px;letter-spacing:0.500px;--d:1.000px;"><i>6</i><i>5</i><i>.</i><i>8</i></div>
<div class="t r" style="left:384px;width:54.25px;top:242.0px;font-size:15.00px;letter-spacing:0.500px;--d:1.000px;"><i>-</i><i>5</i><i>.</i><i>5</i><i>%</i></div>
<div class="t r" style="left:441px;width:70.25px;top:242.0px;font-size:15.00px;letter-spacing:0.500px;--d:1.000px;"><i>3</i><i>9</i><i>.</i><i>5</i></div>
<div class="t r w" style="left:514px;width:70.00px;top:241px;font-size:14.00px;"><i>1</i><i>6</i><i>,</i><i class="z">0</i><i>2</i><i>2</i><i>.</i><i>5</i><i>8</i></div>
<div class="t r" style="left:587px;width:48.25px;top:242.0px;font-size:15.00px;letter-spacing:0.500px;--d:1.000px;"><i>1</i><i>,</i><i class="z">0</i><i>7</i><i class="z">0</i></div>
<div class="t r" style="left:638px;width:70.25px;top:242.0px;font-size:15.00px;letter-spacing:0.500px;--d:1.000px;"><i>7</i><i class="z">0</i><i>6</i><i>.</i><i>8</i><i>5</i></div>
<div class="t r" style="left:711px;width:70.25px;top:242.0px;font-size:15.00px;letter-spacing:0.500px;--d:1.000px;"><i>2</i><i>,</i><i>2</i><i>6</i><i>7</i><i>.</i><i class="z">0</i><i>6</i></div>
<div class="t r" style="left:784px;width:70.25px;top:242.0px;font-size:15.00px;letter-spacing:0.500px;--d:1.000px;"><i>2</i><i>,</i><i>7</i><i>4</i><i>7</i><i>.</i><i>2</i><i>6</i></div>
<div class="t r n" style="left:857px;width:57.25px;top:242.0px;font-size:15.00px;letter-spacing:0.500px;--d:1.000px;"><i>-</i><i>1</i><i>7</i></div>
<div class="t" style="left:919px;top:242.0px;font-size:15.00px;letter-spacing:0.500px;--d:1.000px;"><u>休み</u></div>
<div class="t r" style="left:1058px;width:54.25px;top:242.0px;font-size:15.00px;letter-spacing:0.500px;--d:1.000px;"><i>1</i><i>1</i><i>4</i><i>.</i><i>5</i><i>7</i></div>
<div class="t" style="left:1117px;top:242.0px;font-size:15.00px;letter-spacing:0.500px;--d:1.000px;"><u>日経一時１２００円上昇</u></div>
<div class="t r" style="left:0px;width:57.50px;top:260.0px;font-size:15.00px;letter-spacing:0.500px;--d:1.000px;"><i>2</i><u>月</u><i>1</i><i>6</i><u>日</u></div>
<div class="t r n" style="left:61px;width:120.25px;top:260.0px;font-size:15.00px;letter-spacing:0.500px;--d:1.000px;"><i>-</i><i>3</i><i>4</i><i class="z">0</i></div>
<div class="t r n" style="left:208px;width:126.25px;top:260.0px;font-size:15.00px;letter-spacing:0.500px;--d:1.000px;"><i>-</i><i>2</i><i>7</i></div>
<div class="t r" style="left:337px;width:44.25px;top:260.0px;font-size:15.00px;letter-spacing:0.500px;--d:1.000px;"><i>6</i><i>9</i><i>.</i><i>3</i></div>
<div class="t r" style="left:384px;width:54.25px;top:260.0px;font-size:15.00px;letter-spacing:0.500px;--d:1.000px;"><i>-</i><i>4</i><i>.</i><i>8</i><i>%</i></div>
<div class="t r" style="left:441px;width:70.25px;top:260.0px;font-size:15.00px;letter-spacing:0.500px;--d:1.000px;"><i>4</i><i>2</i><i>.</i><i>1</i></div>
<div class="t r w" style="left:514px;width:70.00px;top:259px;font-size:14.00px;"><i>1</i><i>6</i><i>,</i><i class="z">0</i><i>5</i><i>4</i><i>.</i><i>4</i><i>3</i></div>
<div class="t r" style="left:587px;width:48.25px;top:260.0px;font-size:15.00px;letter-spacing:0.500px;--d:1.000px;"><i>3</i><i>2</i></div>
<div class="t r" style="left:638px;width:70.25px;top:260.0px;font-size:15.00px;letter-spacing:0.500px;--d:1.000px;"><i>7</i><i>3</i><i>1</i><i>.</i><i class="z">0</i><i>2</i></div>
<div class="t r" style="left:711px;width:70.25px;top:260.0px;font-size:15.00px;letter-spacing:0.500px;--d:1.000px;"><i>2</i><i>,</i><i>2</i><i>9</i><i>8</i><i>.</i><i>2</i><i>5</i></div>
<div class="t r" style="left:784px;width:70.25px;top:260.0px;font-size:15.00px;letter-spacing:0.500px;--d:1.000px;"><i>2</i><i>,</i><i>8</i><i>3</i><i>7</i><i>.</i><i>4</i><i class="z">0</i></div>
<div class="t r" style="left:857px;width:57.25px;top:260.0px;font-size:15.00px;letter-spacing:0.500px;--d:1.000px;"><i>9</i><i class="z">0</i></div>
<div class="t r w" style="left:917px;width:70.00px;top:259px;font-size:14.00px;"><i>1</i><i>6</i><i>,</i><i>1</i><i>9</i><i>6</i><i>.</i><i>4</i><i>1</i></div>
<div class="t r" style="left:990px;width:65.25px;top:260.0px;font-size:15.00px;letter-spacing:0.500px;--d:1.000px;"><i>2</i><i>2</i><i>2</i><i>.</i><i>5</i><i>7</i></div>
<div class="t r" style="left:1058px;width:54.25px;top:260.0px;font-size:15.00px;letter-spacing:0.500px;--d:1.000px;"><i>1</i><i>1</i><i>4</i><i>.</i><i class="z">0</i><i>6</i></div>
<div class="t" style="left:1117px;top:260.0px;font-size:15.00px;letter-spacing:0.500px;--d:1.000px;"><u>原油</u><i>1</i><u>月水準合意</u></div>
<div class="t r" style="left:0px;width:57.50px;top:278.0px;font-size:15.00px;letter-spacing:0.500px;--d:1.000px;"><i>2</i><u>月</u><i>1</i><i>7</i><u>日</u></div>
<div class="t r d" style="left:61px;width:120.25px;top:278.0px;font-size:15.00px;letter-spacing:0.500px;--d:1.000px;"><i>2</i><i>3</i><i class="z">0</i></div>
<div class="t r n" style="left:208px;width:126.25px;top:278.0px;font-size:15.00px;letter-spacing:0.500px;--d:1.000px;"><i>-</i><i>3</i><i>8</i></div>
<div class="t r" style="left:337px;width:44.25px;top:278.0px;font-size:15.00px;letter-spacing:0.500px;--d:1.000px;"><i>7</i><i>3</i><i>.</i><i>9</i></div>
<div class="t r" style="left:384px;width:54.25px;top:278.0px;font-size:15.00px;letter-spacing:0.500px;--d:1.000px;"><i>-</i><i>5</i><i>.</i><i>9</i><i>%</i></div>
<div class="t r" style="left:441px;width:70.25px;top:278.0px;font-size:15.00px;letter-spacing:0.500px;--d:1.000px;"><i>4</i><i>2</i><i>.</i><i>6</i></div>
<div class="t r w" style="left:514px;width:70.00px;top:277px;font-size:14.00px;"><i>1</i><i>5</i><i>,</i><i>8</i><i>3</i><i>6</i><i>.</i><i>3</i><i>6</i></div>
<div class="t r n" style="left:587px;width:48.25px;top:278.0px;font-size:15.00px;letter-spacing:0.500px;--d:1.000px;"><i>-</i><i>2</i><i>1</i><i>8</i></div>
<div class="t r" style="left:638px;width:70.25px;top:278.0px;font-size:15.00px;letter-spacing:0.500px;--d:1.000px;"><i>7</i><i>4</i><i>4</i><i>.</i><i>1</i><i>2</i></div>
<div class="t r" style="left:711px;width:70.25px;top:278.0px;font-size:15.00px;letter-spacing:0.500px;--d:1.000px;"><i>2</i><i>,</i><i>2</i><i>8</i><i>4</i><i>.</i><i>6</i><i>4</i></div>
<div class="t r" style="left:784px;width:70.25px;top:278.0px;font-size:15.00px;letter-spacing:0.500px;--d:1.000px;"><i>2</i><i>,</i><i>8</i><i>6</i><i>7</i><i>.</i><i>6</i><i>9</i></div>
<div class="t r" style="left:857px;width:57.25px;top:278.0px;font-size:15.00px;letter-spacing:0.500px;--d:1.000px;"><i>3</i><i class="z">0</i></div>
<div class="t r w" style="left:917px;width:70.00px;top:277px;font-size:14.00px;"><i>1</i><i>6</i><i>,</i><i>4</i><i>5</i><i>3</i><i>.</i><i>8</i><i>3</i></div>
<div class="t r" style="left:990px;width:65.25px;top:278.0px;font-size:15.00px;letter-spacing:0.500px;--d:1.000px;"><i>2</i><i>5</i><i>7</i><i>.</i><i>4</i><i>2</i></div>
<div class="t r" style="left:1058px;width:54.25px;top:278.0px;font-size:15.00px;letter-spacing:0.500px;--d:1.000px;"><i>1</i><i>1</i><i>4</i><i>.</i><i class="z">0</i><i>8</i></div>
<div class="t r" style="left:0px;width:57.50px;top:296.0px;font-size:15.00px;letter-spacing:0.500px;--d:1.000px;"><i>2</i><u>月</u><i>1</i><i>8</i><u>日</u></div>
<div class="t r" style="left:61px;width:120.25px;top:296.0px;font-size:15.00px;letter-spacing:0.500px;--d:1.000px;"><i>4</i><i class="z">0</i></div>
<div class="t" style="left:185px;top:296.0px;font-size:15.00px;letter-spacing:0.500px;--d:1.000px;"><u>中</u></div>
<div class="t r" style="left:208px;width:126.25px;top:296.0px;font-size:15.00px;letter-spacing:0.500px;--d:1.000px;"><i>4</i></div>
<div class="t r" style="left:337px;width:44.25px;top:296.0px;font-size:15.00px;letter-spacing:0.500px;--d:1.000px;"><i>7</i><i>3</i><i>.</i><i>2</i></div>
<div class="t r" style="left:384px;width:54.25px;top:296.0px;font-size:15.00px;letter-spacing:0.500px;--d:1.000px;"><i>-</i><i>3</i><i>.</i><i>2</i><i>%</i></div>
<div class="t r" style="left:441px;width:70.25px;top:296.0px;font-size:15.00px;letter-spacing:0.500px;--d:1.000px;"><i>4</i><i>1</i><i>.</i><i>3</i></div>
<div class="t r w" style="left:514px;width:70.00px;top:295px;font-size:14.00px;"><i>1</i><i>6</i><i>,</i><i>1</i><i>9</i><i>6</i><i>.</i><i>8</i><i class="z">0</i></div>
<div class="t r" style="left:587px;width:48.25px;top:296.0px;font-size:15.00px;letter-spacing:0.500px;--d:1.000px;"><i>3</i><i>6</i><i class="z">0</i></div>
<div class="t r" style="left:638px;width:70.25px;top:296.0px;font-size:15.00px;letter-spacing:0.500px;--d:1.000px;"><i>7</i><i>7</i><i>9</i><i>.</i><i>2</i><i>4</i></div>
<div class="t r" style="left:711px;width:70.25px;top:296.0px;font-size:15.00px;letter-spacing:0.500px;--d:1.000px;"><i>2</i><i>,</i><i>3</i><i>1</i><i>6</i><i>.</i><i class="z">0</i><i>9</i></div>
<div class="t r" style="left:784px;width:70.25px;top:296.0px;font-size:15.00px;letter-spacing:0.500px;--d:1.000px;"><i>2</i><i>,</i><i>8</i><i>6</i><i>2</i><i>.</i><i>8</i><i>3</i></div>
<div class="t r n" style="left:857px;width:57.25px;top:296.0px;font-size:15.00px;letter-spacing:0.500px;--d:1.000px;"><i>-</i><i>5</i></div>
<div class="t r w" style="left:917px;width:70.00px;top:295px;font-size:14.00px;"><i>1</i><i>6</i><i>,</i><i>4</i><i>1</i><i>3</i><i>.</i><i>4</i><i>3</i></div>
<div class="t r n" style="left:990px;width:65.25px;top:296.0px;font-size:15.00px;letter-spacing:0.500px;--d:1.000px;"><i>-</i><i>4</i><i class="z">0</i><i>.</i><i>4</i><i class="z">0</i></div>
<div class="t r" style="left:1058px;width:54.25px;top:296.0px;font-size:15.00px;letter-spacing:0.500px;--d:1.000px;"><i>1</i><i>1</i><i>3</i><i>.</i><i>2</i><i>3</i></div>
<div class="t" style="left:1117px;top:296.0px;font-size:15.00px;letter-spacing:0.500px;--d:1.000px;"><u>上記イラン合意</u></div>
<div class="t r" style="left:0px;width:57.50px;top:314.0px;font-size:15.00px;letter-spacing:0.500px;--d:1.000px;"><i>2</i><u>月</u><i>1</i><i>9</i><u>日</u></div>
<div class="t r d" style="left:61px;width:120.25px;top:314.0px;font-size:15.00px;letter-spacing:0.500px;--d:1.000px;"><i>1</i><i>9</i><i class="z">0</i></div>
<div class="t" style="left:185px;top:314.0px;font-size:15.00px;letter-spacing:0.500px;--d:1.000px;"><u>小</u></div>
<div class="t r n" style="left:208px;width:126.25px;top:314.0px;font-size:15.00px;letter-spacing:0.500px;--d:1.000px;"><i>-</i><i>4</i><i>1</i></div>
<div class="t r" style="left:337px;width:44.25px;top:314.0px;font-size:15.00px;letter-spacing:0.500px;--d:1.000px;"><i>7</i><i>5</i><i>.</i><i>2</i></div>
<div class="t r" style="left:384px;width:54.25px;top:314.0px;font-size:15.00px;letter-spacing:0.500px;--d:1.000px;"><i>-</i><i>4</i><i>.</i><i>4</i><i>%</i></div>
<div class="t r" style="left:441px;width:70.25px;top:314.0px;font-size:15.00px;letter-spacing:0.500px;--d:1.000px;"><i>4</i><i>2</i><i>.</i><i class="z">0</i></div>
<div class="t r w" style="left:514px;width:70.00px;top:313px;font-size:14.00px;"><i>1</i><i>5</i><i>,</i><i>9</i><i>6</i><i>7</i><i>.</i><i>1</i><i>7</i></div>
<div class="t r n" style="left:587px;width:48.25px;top:314.0px;font-size:15.00px;letter-spacing:0.500px;--d:1.000px;"><i>-</i><i>2</i><i>3</i><i class="z">0</i></div>
<div class="t r" style="left:638px;width:70.25px;top:314.0px;font-size:15.00px;letter-spacing:0.500px;--d:1.000px;"><i>7</i><i>9</i><i>2</i><i>.</i><i>7</i><i>9</i></div>
<div class="t r" style="left:711px;width:70.25px;top:314.0px;font-size:15.00px;letter-spacing:0.500px;--d:1.000px;"><i>2</i><i>,</i><i>3</i><i class="z">0</i><i>6</i><i>.</i><i>2</i><i class="z">0</i></div>
<div class="t r" style="left:784px;width:70.25px;top:314.0px;font-size:15.00px;letter-spacing:0.500px;--d:1.000px;"><i>2</i><i>,</i><i>8</i><i>6</i><i>1</i><i>.</i><i>3</i><i>7</i></div>
<div class="t r n" style="left:857px;width:57.25px;top:314.0px;font-size:15.00px;letter-spacing:0.500px;--d:1.000px;"><i>-</i><i>1</i></div>
<div class="t r w" style="left:917px;width:70.00px;top:313px;font-size:14.00px;"><i>1</i><i>6</i><i>,</i><i>3</i><i>9</i><i>1</i><i>.</i><i>9</i><i>9</i></div>
<div class="t r n" style="left:990px;width:65.25px;top:314.0px;font-size:15.00px;letter-spacing:0.500px;--d:1.000px;"><i>-</i><i>2</i><i>1</i><i>.</i><i>4</i><i>4</i></div>
<div class="t r" style="left:1058px;width:54.25px;top:314.0px;font-size:15.00px;letter-spacing:0.500px;--d:1.000px;"><i>1</i><i>1</i><i>2</i><i>.</i><i>5</i><i>4</i></div>
<div class="t" style="left:1117px;top:313.0px;font-size:11.00px;letter-spacing:0.500px;--d:1.000px;"><u>サウジアラビア生産調整意思なし</u></div>
<div class="t r" style="left:0px;width:57.50px;top:332.0px;font-size:15.00px;letter-spacing:0.500px;--d:1.000px;"><i>2</i><u>月</u><i>2</i><i class="z">0</i><u>日</u></div>
<div class="t r" style="left:0px;width:57.50px;top:350.0px;font-size:15.00px;letter-spacing:0.500px;--d:1.000px;"><i>2</i><u>月</u><i>2</i><i>1</i><u>日</u></div>
<div class="t r" style="left:0px;width:57.50px;top:368.0px;font-size:15.00px;letter-spacing:0.500px;--d:1.000px;"><i>2</i><u>月</u><i>2</i><i>2</i><u>日</u></div>
<div class="t r n" style="left:61px;width:120.25px;top:368.0px;font-size:15.00px;letter-spacing:0.500px;--d:1.000px;"><i>-</i><i>2</i><i>1</i><i class="z">0</i></div>
<div class="t" style="left:185px;top:368.0px;font-size:15.00px;letter-spacing:0.500px;--d:1.000px;"><u>中</u></div>
<div class="t r n" style="left:208px;width:126.25px;top:368.0px;font-size:15.00px;letter-spacing:0.500px;--d:1.000px;"><i>-</i><i>9</i><i>5</i></div>
<div class="t r" style="left:337px;width:44.25px;top:368.0px;font-size:15.00px;letter-spacing:0.500px;--d:1.000px;"><i>7</i><i>8</i><i>.</i><i>7</i></div>
<div class="t r" style="left:384px;width:54.25px;top:368.0px;font-size:15.00px;letter-spacing:0.500px;--d:1.000px;"><i>-</i><i>3</i><i>.</i><i>2</i><i>%</i></div>
<div class="t r" style="left:441px;width:70.25px;top:368.0px;font-size:15.00px;letter-spacing:0.500px;--d:1.000px;"><i>4</i><i>1</i><i>.</i><i>5</i></div>
<div class="t r w" style="left:514px;width:70.00px;top:367px;font-size:14.00px;"><i>1</i><i>6</i><i>,</i><i>1</i><i>1</i><i>1</i><i>.</i><i class="z">0</i><i>5</i></div>
<div class="t r" style="left:587px;width:48.25px;top:368.0px;font-size:15.00px;letter-spacing:0.500px;--d:1.000px;"><i>1</i><i>4</i><i>4</i></div>
<div class="t r" style="left:638px;width:70.25px;top:368.0px;font-size:15.00px;letter-spacing:0.500px;--d:1.000px;"><i>8</i><i>2</i><i>1</i><i>.</i><i>8</i><i>3</i></div>
<div class="t r" style="left:711px;width:70.25px;top:368.0px;font-size:15.00px;letter-spacing:0.500px;--d:1.000px;"><i>2</i><i>,</i><i>3</i><i>2</i><i>1</i><i>.</i><i>9</i><i>8</i></div>
<div class="t r" style="left:784px;width:70.25px;top:368.0px;font-size:15.00px;letter-spacing:0.500px;--d:1.000px;"><i>2</i><i>,</i><i>9</i><i>2</i><i>7</i><i>.</i><i>7</i><i>3</i></div>
<div class="t r" style="left:857px;width:57.25px;top:368.0px;font-size:15.00px;letter-spacing:0.500px;--d:1.000px;"><i>6</i><i>6</i></div>
<div class="t r w" style="left:917px;width:70.00px;top:367px;font-size:14.00px;"><i>1</i><i>6</i><i>,</i><i>6</i><i>2</i><i class="z">0</i><i>.</i><i>6</i><i>6</i></div>
<div class="t r" style="left:990px;width:65.25px;top:368.0px;font-size:15.00px;letter-spacing:0.500px;--d:1.000px;"><i>2</i><i>2</i><i>8</i><i>.</i><i>6</i><i>7</i></div>
<div class="t r" style="left:1058px;width:54.25px;top:368.0px;font-size:15.00px;letter-spacing:0.500px;--d:1.000px;"><i>1</i><i>1</i><i>2</i><i>.</i><i>9</i><i>1</i></div>
<div class="t" style="left:1117px;top:368.0px;font-size:15.00px;letter-spacing:0.500px;--d:1.000px;"><u>日経上がれなければ弱い</u></div>
<div class="t r" style="left:0px;width:57.50px;top:386.0px;font-size:15.00px;letter-spacing:0.500px;--d:1.000px;"><i>2</i><u>月</u><i>2</i><i>3</i><u>日</u></div>
<div class="t r d" style="left:61px;width:120.25px;top:386.0px;font-size:15.00px;letter-spacing:0.500px;--d:1.000px;"><i>3</i><i>3</i><i class="z">0</i></div>
<div class="t" style="left:185px;top:386.0px;font-size:15.00px;letter-spacing:0.500px;--d:1.000px;"><u>大</u></div>
<div class="t r n" style="left:208px;width:126.25px;top:386.0px;font-size:15.00px;letter-spacing:0.500px;--d:1.000px;"><i>-</i><i>9</i></div>
<div class="t r" style="left:337px;width:44.25px;top:386.0px;font-size:15.00px;letter-spacing:0.500px;--d:1.000px;"><i>8</i><i>1</i><i>.</i><i>1</i></div>
<div class="t r" style="left:384px;width:54.25px;top:386.0px;font-size:15.00px;letter-spacing:0.500px;--d:1.000px;"><i>-</i><i>3</i><i>.</i><i>3</i><i>%</i></div>
<div class="t r" style="left:441px;width:70.25px;top:386.0px;font-size:15.00px;letter-spacing:0.500px;--d:1.000px;"><i>4</i><i>1</i><i>.</i><i class="z">0</i></div>
<div class="t r w" style="left:514px;width:70.00px;top:385px;font-size:14.00px;"><i>1</i><i>6</i><i>,</i><i class="z">0</i><i>5</i><i>2</i><i>.</i><i class="z">0</i><i>5</i></div>
<div class="t r n" style="left:587px;width:48.25px;top:386.0px;font-size:15.00px;letter-spacing:0.500px;--d:1.000px;"><i>-</i><i>5</i><i>9</i></div>
<div class="t r" style="left:638px;width:70.25px;top:386.0px;font-size:15.00px;letter-spacing:0.500px;--d:1.000px;"><i>8</i><i class="z">0</i><i>9</i><i>.</i><i>1</i><i>8</i></div>
<div class="t r" style="left:711px;width:70.25px;top:386.0px;font-size:15.00px;letter-spacing:0.500px;--d:1.000px;"><i>2</i><i>,</i><i>3</i><i>2</i><i class="z">0</i><i>.</i><i>9</i><i>9</i></div>
<div class="t r" style="left:784px;width:70.25px;top:386.0px;font-size:15.00px;letter-spacing:0.500px;--d:1.000px;"><i>2</i><i>,</i><i>9</i><i class="z">0</i><i>3</i><i>.</i><i>9</i><i>5</i></div>
<div class="t r n" style="left:857px;width:57.25px;top:386.0px;font-size:15.00px;letter-spacing:0.500px;--d:1.000px;"><i>-</i><i>2</i><i>4</i></div>
<div class="t" style="left:1117px;top:386.0px;font-size:15.00px;letter-spacing:0.500px;--d:1.000px;"><i>G</i><i>2</i><i class="z">0</i><u>　</u><i>F</i><i>O</i><i>M</i><i>C</i><u>意識</u></div>
</body></html>
